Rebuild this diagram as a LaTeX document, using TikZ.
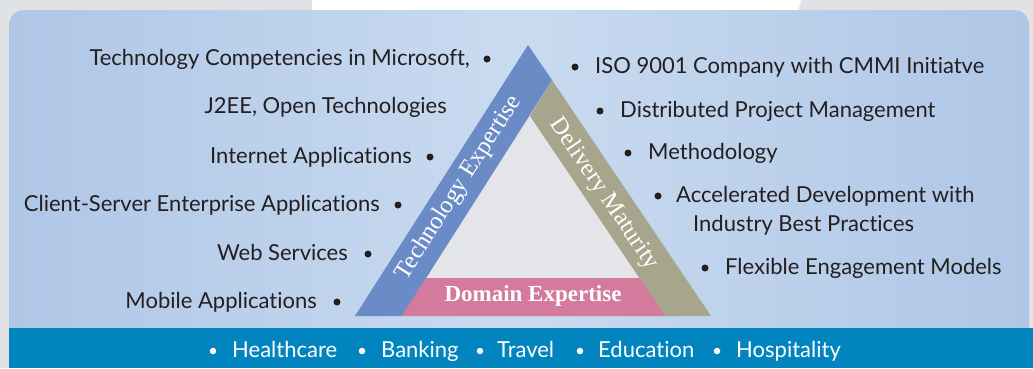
\documentclass[tikz,border=0pt]{standalone}
\usepackage{fontspec}
\setmainfont[Ligatures={NoCommon,NoRequired,NoContextual}]{Lato}
\newfontfamily\trifont{Liberation Serif}
\definecolor{bggray}{HTML}{E1E2E4}
\definecolor{paneledge}{HTML}{AFC6E6}
\definecolor{panelmid}{HTML}{C9DBF0}
\definecolor{bandblue}{HTML}{0284BF}
\definecolor{techblue}{HTML}{6A8BC6}
\definecolor{olive}{HTML}{A8A58D}
\definecolor{pinkd}{HTML}{D47A9C}
\definecolor{innergray}{HTML}{E4E5E8}
\definecolor{txt}{HTML}{231F20}
\tikzset{
  item/.style={text=txt, font=\fontsize{22}{26}\selectfont, inner sep=0pt},
  dot/.style={circle, fill=txt, minimum size=7pt, inner sep=0pt},
  banditem/.style={text=white, font=\fontsize{22}{26}\selectfont, inner sep=0pt, anchor=base west},
  wdot/.style={circle, fill=white, minimum size=6.5pt, inner sep=0pt},
  trilabel/.style={text=white, font=\trifont\fontsize{24.5}{28}\selectfont, inner sep=0pt},
}
\begin{document}
\begin{tikzpicture}[x=1pt,y=-1pt]
\useasboundingbox (0,0) rectangle (1033,368);
% background
\fill[bggray] (0,0) rectangle (1033,368);
\fill[white] (312,0) -- (801,0) -- (798,12) -- (312,12) -- cycle;
% panel
\shade[left color=paneledge, right color=paneledge, middle color=panelmid, rounded corners=15pt] (9,10) rectangle (1029,345);
% band
\fill[bandblue] (9,328) rectangle (1033,368);
% triangle
\coordinate (apex) at (528,45);
\coordinate (bl) at (355,316);
\coordinate (br) at (711,316);
\coordinate (tb) at (552,80);
\coordinate (ia) at (530,116);
\coordinate (il) at (426,278);
\coordinate (ir) at (640,278);
\coordinate (pbl) at (402,316);
\coordinate (pbr) at (665,316);
\fill[innergray] (ia) -- (il) -- (ir) -- cycle;
\fill[techblue] (apex) -- (tb) -- (pbl) -- (bl) -- cycle;
\fill[olive] (tb) -- (br) -- (pbr) -- (ia) -- cycle;
\fill[pinkd] (il) -- (ir) -- (pbr) -- (pbl) -- cycle;
\node[trilabel, rotate=57.4] (te) at (459,188) {Technology Expertise};
\node[trilabel, rotate=-56] (dm) at (604,194) {Delivery Maturity};
\node[trilabel, font=\trifont\bfseries\fontsize{23}{26}\selectfont] (de) at (533,296) {Domain Expertise};
% left items
\node[item, anchor=base east] (l1) at (470,65) {Technology Competencies in Microsoft,};
\node[dot] (l1d) at (487,59) {};
\node[item, anchor=base east] (l2) at (447,113) {J2EE, Open Technologies};
\node[item, anchor=base east] (l3) at (412,163) {Internet Applications};
\node[dot] (l3d) at (430,157) {};
\node[item, anchor=base east] (l4) at (380,211) {Client-Server Enterprise Applications};
\node[dot] (l4d) at (398,205) {};
\node[item, anchor=base east] (l5) at (348,260) {Web Services};
\node[dot] (l5d) at (368,254) {};
\node[item, anchor=base east] (l6) at (317,308) {Mobile Applications};
\node[dot] (l6d) at (337,302) {};
% right items
\node[dot] (r1d) at (575,67) {};
\node[item, anchor=base west] (r1) at (595,73) {ISO 9001 Company with CMMI Initiatve};
\node[dot] (r2d) at (600,111) {};
\node[item, anchor=base west] (r2) at (620,117) {Distributed Project Management};
\node[dot] (r3d) at (628,153) {};
\node[item, anchor=base west] (r3) at (648,159) {Methodology};
\node[dot] (r4d) at (658,196) {};
\node[item, anchor=base west] (r4) at (676,202) {Accelerated Development with};
\node[item, anchor=base west] (r4b) at (693,231) {Industry Best Practices};
\node[dot] (r5d) at (705,268) {};
\node[item, anchor=base west] (r5) at (725,274) {Flexible Engagement Models};
% band items
\node[wdot] (b1d) at (213,351) {};
\node[banditem] (b1) at (232,357) {Healthcare};
\node[wdot] (b2d) at (362,351) {};
\node[banditem] (b2) at (381,357) {Banking};
\node[wdot] (b3d) at (480,351) {};
\node[banditem] (b3) at (497,357) {Travel};
\node[wdot] (b4d) at (580,351) {};
\node[banditem] (b4) at (598,357) {Education};
\node[wdot] (b5d) at (717,351) {};
\node[banditem] (b5) at (736,357) {Hospitality};
\end{tikzpicture}
\end{document}
